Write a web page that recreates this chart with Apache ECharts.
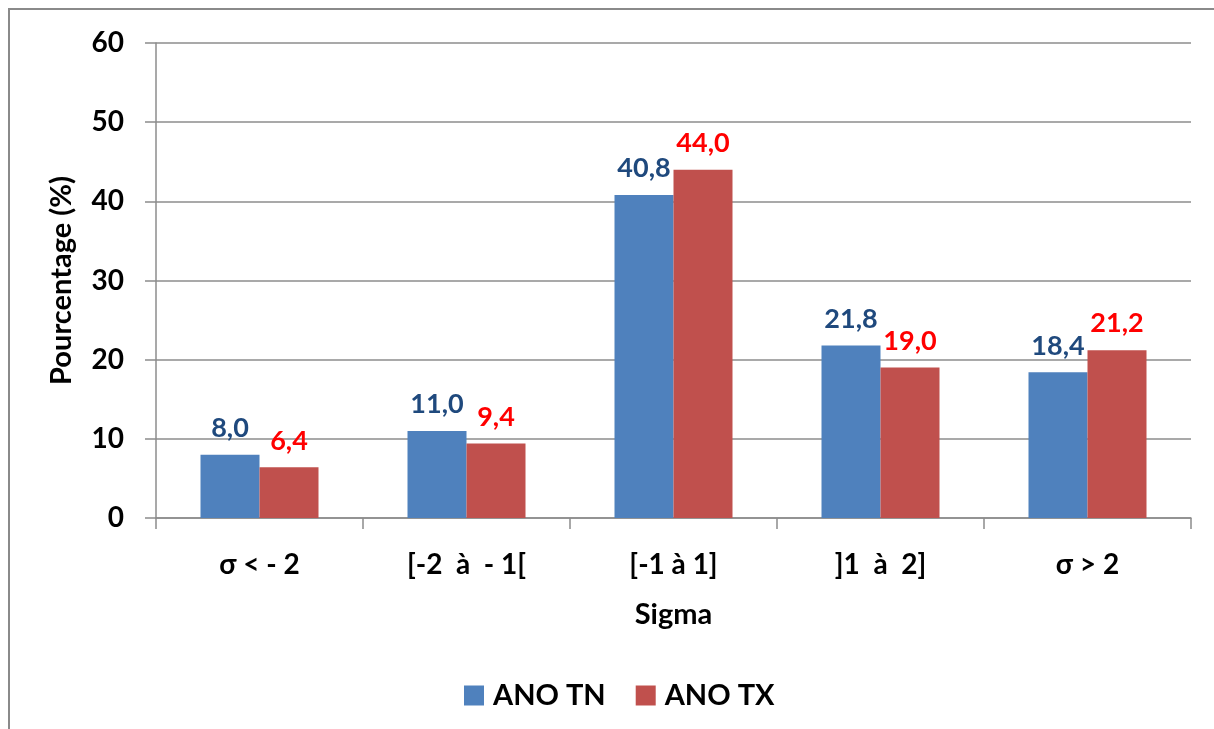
<!DOCTYPE html>
<html>
<head>
<meta charset="utf-8">
<script src="https://cdn.jsdelivr.net/npm/echarts@6/dist/echarts.min.js"></script>
<style>
html,body{margin:0;padding:0;background:#fff;}
#chart{width:1214px;height:729px;}
</style>
</head>
<body>
<div id="chart"></div>
<script>
const categories = ['σ < - 2', '[-2  à  - 1[', '[-1 à 1]', ']1  à  2]', 'σ > 2'];
const anoTN = [8.0, 11.0, 40.8, 21.8, 18.4];
const anoTX = [6.4, 9.4, 44.0, 19.0, 21.2];
const yTicks = [0, 10, 20, 30, 40, 50, 60];

const FONT = 'Lato, "Open Sans", sans-serif';
const fmt = p => p.value.toFixed(1).replace('.', ',');

const chart = echarts.init(document.getElementById('chart'));
chart.setOption({
  backgroundColor: '#ffffff',
  animation: false,
  graphic: [{
    type: 'rect',
    shape: {x: 9, y: 9, width: 1400, height: 900},
    style: {fill: 'none', stroke: '#8a8a8a', lineWidth: 2},
    silent: true
  }],
  grid: {left: 156, right: 23, top: 43, bottom: 211, containLabel: false},
  legend: {
    data: ['ANO TN', 'ANO TX'],
    top: 676,
    left: 459,
    itemWidth: 20,
    itemHeight: 20,
    itemGap: 30,
    icon: 'rect',
    textStyle: {fontFamily: FONT, fontWeight: 'bold', fontSize: 29, color: '#000', padding: [0, 0, 0, 4]}
  },
  xAxis: {
    type: 'category',
    data: categories,
    name: 'Sigma',
    nameLocation: 'middle',
    nameGap: 82,
    nameTextStyle: {fontFamily: FONT, fontWeight: 'bold', fontSize: 29, color: '#000'},
    axisLine: {lineStyle: {color: '#8c8c8c', width: 1.5}},
    axisTick: {show: true, length: 11, lineStyle: {color: '#8c8c8c', width: 1.5}},
    axisLabel: {fontFamily: FONT, fontWeight: 'bold', fontSize: 28, color: '#000', margin: 33}
  },
  yAxis: {
    type: 'value',
    min: yTicks[0],
    max: yTicks[yTicks.length - 1],
    interval: 10,
    name: 'Pourcentage (%)',
    nameLocation: 'middle',
    nameGap: 80,
    nameTextStyle: {fontFamily: FONT, fontWeight: 'bold', fontSize: 29, color: '#000'},
    axisLine: {show: true, lineStyle: {color: '#8c8c8c', width: 1.5}},
    axisTick: {show: true, length: 11, lineStyle: {color: '#8c8c8c', width: 1.5}},
    axisLabel: {fontFamily: FONT, fontWeight: 'bold', fontSize: 28, color: '#000', margin: 32},
    splitLine: {show: true, lineStyle: {color: '#8c8c8c', width: 1.5}}
  },
  series: [
    {
      name: 'ANO TN',
      type: 'bar',
      data: anoTN,
      barWidth: 59,
      barGap: '0%',
      itemStyle: {color: '#4F81BD'},
      label: {show: true, position: 'top', distance: 13, formatter: fmt,
        fontFamily: FONT, fontWeight: 'bold', fontSize: 27, color: '#1F497D'}
    },
    {
      name: 'ANO TX',
      type: 'bar',
      data: anoTX,
      barWidth: 59,
      barGap: '0%',
      itemStyle: {color: '#C0504D'},
      label: {show: true, position: 'top', distance: 13, formatter: fmt,
        fontFamily: FONT, fontWeight: 'bold', fontSize: 27, color: '#FF0000'}
    }
  ]
});
</script>
</body>
</html>
